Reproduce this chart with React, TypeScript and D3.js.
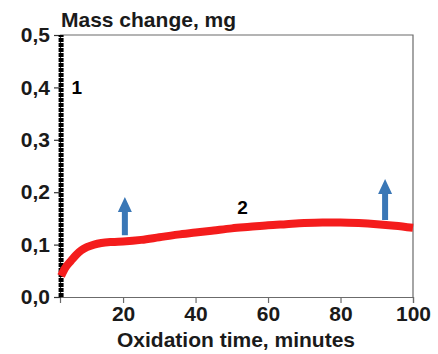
import React, { useEffect, useRef } from 'react';
import * as d3 from 'd3';

// curve 1 (near-vertical jump at the very start)
const curve1Time = [2.9, 2.9, 2.9];
const curve1Mass = [0.0, 0.25, 0.5];

// curve 2 (red)
const curve2Time = [2.9, 4, 5.5, 7, 8.5, 10, 12, 14, 17, 20, 25, 30, 35, 40, 45, 50, 55, 60, 65, 70, 75, 80, 85, 90, 95, 100];
const curve2Mass = [0.04, 0.055, 0.068, 0.08, 0.089, 0.095, 0.1, 0.103, 0.105, 0.106, 0.109, 0.114, 0.119, 0.123, 0.127, 0.131, 0.134, 0.137, 0.139, 0.141, 0.142, 0.142, 0.141, 0.139, 0.136, 0.132];

// blue arrows
const arrowTime = [20.5, 92.3];
const arrowBase = [0.118, 0.147];
const arrowTip = [0.191, 0.225];

const xTicks = [20, 40, 60, 80, 100];
const xMinor = [10, 30, 50, 70, 90];
const yTicks = [0, 0.1, 0.2, 0.3, 0.4, 0.5];
const yMinor = [0.05, 0.15, 0.25, 0.35, 0.45];

const W = 438;
const H = 354;
const FONT = '"Liberation Sans", Arial, sans-serif';

const App: React.FC = () => {
  const svgRef = useRef<SVGSVGElement>(null);

  useEffect(() => {
    if (!svgRef.current) return;
    const svg = d3.select(svgRef.current);
    svg.selectAll('*').remove();

    const margin = { top: 35, right: 25, bottom: 57, left: 60 };
    const x = d3.scaleLinear().domain([2.6, 100]).range([margin.left, W - margin.right]);
    const y = d3.scaleLinear().domain([0, 0.5]).range([H - margin.bottom, margin.top]);

    const [x0, x1] = x.range();
    const [y0, y1] = y.range();

    // frame (top + right)
    svg.append('path')
      .attr('d', `M${x0},${y1}H${x1}V${y0}`)
      .attr('fill', 'none')
      .attr('stroke', '#6b6b6b')
      .attr('stroke-width', 1.2);

    // bottom axis
    const gx = svg.append('g').attr('transform', `translate(0,${y0})`);
    gx.call(d3.axisBottom(x).tickValues(xMinor).tickSize(4).tickFormat(() => ''));
    gx.call(d3.axisBottom(x).tickValues(xTicks).tickSize(6).tickPadding(3)
      .tickFormat(d => String(d)));
    gx.selectAll('path, line').attr('stroke', '#6b6b6b').attr('stroke-width', 1.2);
    gx.selectAll('text')
      .attr('font-family', FONT)
      .attr('font-weight', 'bold')
      .attr('font-size', 21)
      .attr('fill', '#1a1a1a');

    // left axis
    const gy = svg.append('g').attr('transform', `translate(${x0},0)`);
    gy.call(d3.axisLeft(y).tickValues(yMinor).tickSize(4).tickFormat(() => ''));
    gy.call(d3.axisLeft(y).tickValues(yTicks).tickSize(6).tickPadding(4)
      .tickFormat(d => d3.format('.1f')(d as number).replace('.', ',')));
    gy.selectAll('path, line').attr('stroke', '#333').attr('stroke-width', 1.2);
    gy.selectAll('text')
      .attr('font-family', FONT)
      .attr('font-weight', 'bold')
      .attr('font-size', 21)
      .attr('fill', '#1a1a1a');

    const line = d3.line<[number, number]>()
      .x(d => x(d[0]))
      .y(d => y(d[1]))
      .curve(d3.curveMonotoneX);

    // curve 1
    const c1 = curve1Time.map((t, i) => [t, curve1Mass[i]] as [number, number]);
    svg.append('path')
      .datum(c1)
      .attr('d', d3.line<[number, number]>().x(d => x(d[0])).y(d => y(d[1])))
      .attr('fill', 'none')
      .attr('stroke', '#000')
      .attr('stroke-width', 5)
      .attr('stroke-dasharray', '4,1');

    // curve 2
    const c2 = curve2Time.map((t, i) => [t, curve2Mass[i]] as [number, number]);
    svg.append('path')
      .datum(c2)
      .attr('d', line)
      .attr('fill', 'none')
      .attr('stroke', '#f41c1c')
      .attr('stroke-width', 8)
      .attr('stroke-linejoin', 'round');

    // arrows
    arrowTime.forEach((t, i) => {
      const cx = x(t);
      const yb = y(arrowBase[i]);
      const yt = y(arrowTip[i]);
      const headLen = 15;
      const sw = 3;
      const hw = 7;
      const yh = yt + headLen;
      svg.append('path')
        .attr('d', `M${cx - sw},${yb}V${yh}H${cx - hw}L${cx},${yt}L${cx + hw},${yh}H${cx + sw}V${yb}Z`)
        .attr('fill', '#3a77b6');
    });

    // curve labels
    svg.append('text')
      .attr('x', x(5.8)).attr('y', y(0.4)).attr('dy', '0.35em')
      .attr('font-family', FONT).attr('font-weight', 'bold').attr('font-size', 19)
      .text('1');
    svg.append('text')
      .attr('x', x(53)).attr('y', y(0.172)).attr('dy', '0.35em')
      .attr('text-anchor', 'middle')
      .attr('font-family', FONT).attr('font-weight', 'bold').attr('font-size', 19)
      .text('2');

    // axis titles
    svg.append('text')
      .attr('x', x0 + 1).attr('y', 27)
      .attr('font-family', FONT).attr('font-weight', 'bold').attr('font-size', 21)
      .attr('fill', '#1a1a1a')
      .text('Mass change, mg');
    svg.append('text')
      .attr('x', (x0 + x1) / 2 - 0.5).attr('y', 347)
      .attr('text-anchor', 'middle')
      .attr('font-family', FONT).attr('font-weight', 'bold').attr('font-size', 21)
      .attr('fill', '#1a1a1a')
      .text('Oxidation time, minutes');
  }, []);

  return (
    <svg ref={svgRef} width={W} height={H} style={{ position: 'absolute', left: 0, top: 0, background: '#fff' }} />
  );
};

export default App;
